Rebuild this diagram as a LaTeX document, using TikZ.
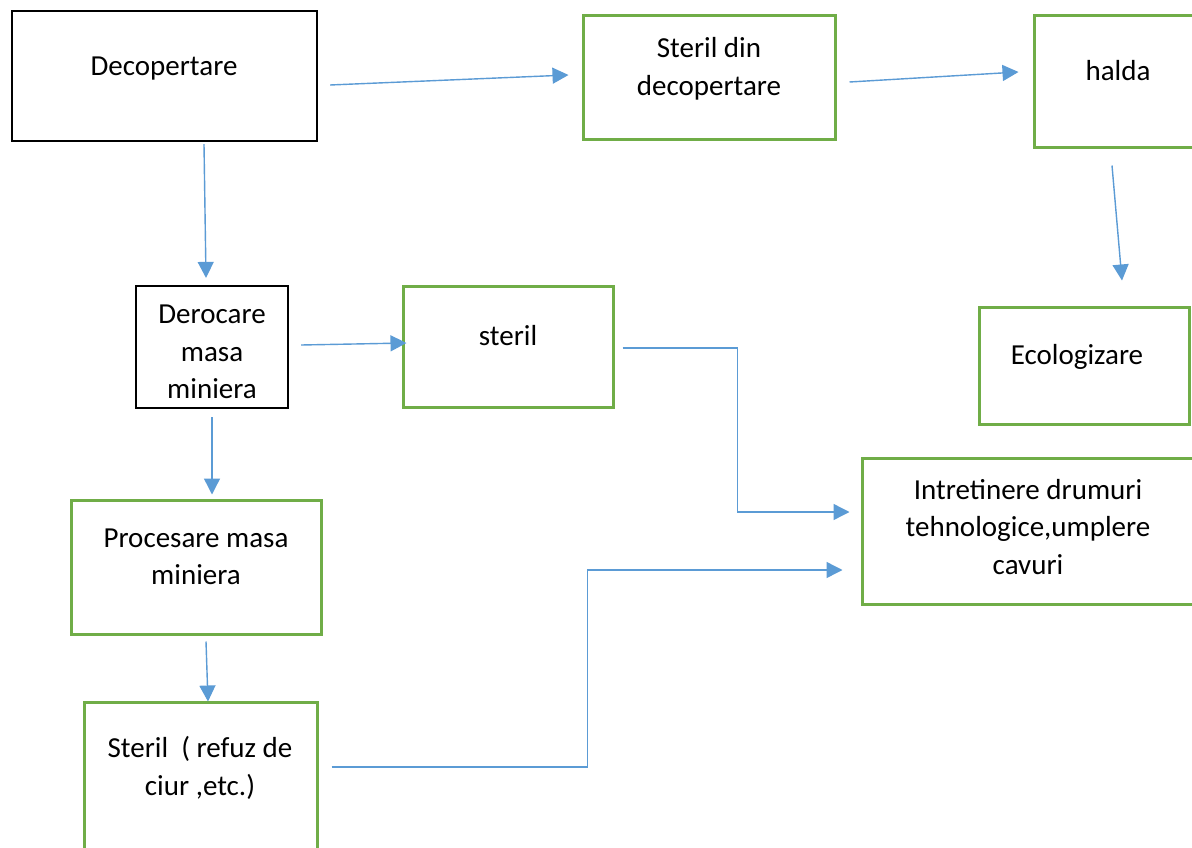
\documentclass[tikz,border=0pt]{standalone}
\usepackage{fontspec}
\setmainfont{Carlito}
\usetikzlibrary{arrows.meta,calc}
\definecolor{bxgreen}{HTML}{70AD47}
\definecolor{arblue}{HTML}{5B9BD5}
\begin{document}
\begin{tikzpicture}[x=1pt,y=-1pt,
  gbox/.style={draw=bxgreen,line width=3pt,rectangle,inner sep=0pt},
  kbox/.style={draw=black,line width=2.2pt,rectangle,inner sep=0pt},
  lbl/.style={align=center,font=\fontsize{29}{37.5}\selectfont,inner sep=0pt},
  conn/.style={draw=arblue,line width=1.4pt,-{Triangle[length=16pt,width=16pt]}}]
\clip (0,0) rectangle (1192,848);
\fill[white] (0,0) rectangle (1192,848);
% boxes
\node[kbox,minimum width=305pt,minimum height=130pt] (dec) at (164.5,76) {};
\node[gbox,minimum width=252pt,minimum height=124pt] (sdd) at (709,78) {};
\node[gbox,minimum width=216pt,minimum height=132pt] (halda) at (1142,82) {};
\node[kbox,minimum width=152pt,minimum height=122pt] (der) at (212,347) {};
\node[gbox,minimum width=210pt,minimum height=121pt] (ster) at (508,346.5) {};
\node[gbox,minimum width=210pt,minimum height=117pt] (eco) at (1084,365.5) {};
\node[gbox,minimum width=388pt,minimum height=146pt] (intr) at (1056,531) {};
\node[gbox,minimum width=250pt,minimum height=134pt] (proc) at (196,567) {};
\node[gbox,minimum width=233pt,minimum height=198pt] (sref) at (200.5,801) {};
% texts
\node[lbl] (tdec) at (164,69) {Decopertare};
\node[lbl] (tsdd) at (709,69) {Steril din\\decopertare};
\node[lbl] (thalda) at (1118,71) {halda};
\node[lbl] (tder) at (212,352) {Derocare\\masa\\miniera};
\node[lbl] (tster) at (508,336) {steril};
\node[lbl] (teco) at (1077,357) {Ecologizare};
\node[lbl] (tintr) at (1028,527) {Intretinere drumuri\\tehnologice,umplere\\cavuri};
\node[lbl] (tproc) at (196,557) {Procesare masa\\miniera};
\node[lbl] (tsref) at (200,768) {Steril~~( refuz de\\ciur ,etc.)};
% connectors
\draw[conn] ($(dec.east)+(12,9)$) -- ($(sdd.west)+(-13,-3)$);
\draw[conn] ($(sdd.east)+(13,4)$) -- ($(halda.west)+(-14,-10)$);
\draw[conn] ($(dec.south)+(39.5,2)$) -- ($(der.north)+(-6,-7)$);
\draw[conn] ($(halda.south)+(-30,16)$) -- ($(eco.north)+(38,-25)$);
\draw[conn] ($(der.east)+(12,-2)$) -- ($(ster.west)+(5,-3.5)$);
\draw[conn] ($(der.south)+(0,8)$) -- ($(proc.north)+(16,-4)$);
\draw[conn] ($(proc.south)+(10,6)$) -- ($(sref.north)+(7.5,1)$);
\draw[conn] ($(ster.east)+(8,1.5)$) -- ++(115,0) |- ($(intr.west)+(-11,-19)$);
\draw[conn] ($(sref.east)+(13,-34)$) -- ++(256,0) |- ($(intr.west)+(-18,39)$);
\end{tikzpicture}
\end{document}
